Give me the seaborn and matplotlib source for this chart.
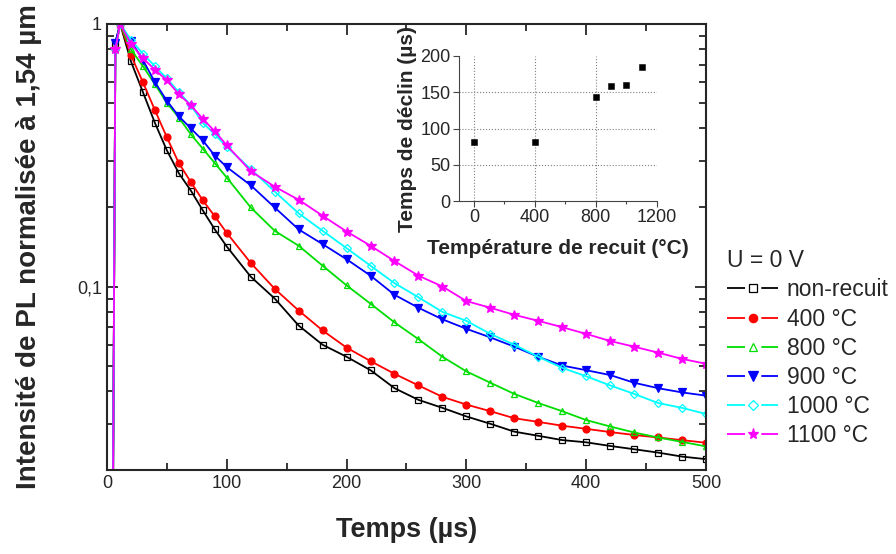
import numpy as np
import pandas as pd
import seaborn as sns
import matplotlib.pyplot as plt
from matplotlib.lines import Line2D
from matplotlib.ticker import FixedLocator, LogLocator, NullFormatter, FuncFormatter, MultipleLocator

sns.set_style("ticks")
plt.rcParams['font.family'] = ['Liberation Sans', 'DejaVu Sans']

# temps (µs)
temps = [5, 7, 11, 20, 30, 40, 50, 60, 70, 80, 90, 100, 120, 140, 160, 180, 200,
         220, 240, 260, 280, 300, 320, 340, 360, 380, 400, 420, 440, 460, 480, 500]

non_recuit = [0.015, 0.85, 1.0, 0.72, 0.55, 0.42, 0.33, 0.27, 0.232, 0.195, 0.165, 0.142,
              0.109, 0.090, 0.071, 0.060, 0.054, 0.048, 0.041, 0.037, 0.0345, 0.032,
              0.030, 0.028, 0.027, 0.026, 0.0255, 0.0247, 0.024, 0.0233, 0.0225, 0.022]
r400 = [0.015, 0.8, 1.0, 0.76, 0.6, 0.47, 0.37, 0.295, 0.25, 0.213, 0.185, 0.16,
        0.123, 0.098, 0.081, 0.068, 0.0585, 0.052, 0.0465, 0.042, 0.038, 0.0355,
        0.0335, 0.0315, 0.0305, 0.0295, 0.0287, 0.0279, 0.0272, 0.0266, 0.026, 0.0254]
r800 = [0.015, 0.8, 1.0, 0.80, 0.69, 0.59, 0.50, 0.44, 0.38, 0.335, 0.295, 0.26,
        0.20, 0.163, 0.143, 0.12, 0.101, 0.086, 0.073, 0.063, 0.054, 0.0475,
        0.043, 0.039, 0.036, 0.0335, 0.031, 0.0293, 0.0278, 0.0266, 0.0256, 0.0246]
r900 = [0.015, 0.85, 1.0, 0.86, 0.73, 0.60, 0.51, 0.445, 0.40, 0.36, 0.315, 0.285,
        0.243, 0.20, 0.165, 0.145, 0.127, 0.11, 0.093, 0.083, 0.075, 0.069,
        0.064, 0.059, 0.054, 0.050, 0.048, 0.046, 0.043, 0.041, 0.0395, 0.0384]
r1000 = [0.015, 0.8, 1.0, 0.87, 0.77, 0.69, 0.62, 0.55, 0.49, 0.42, 0.38, 0.34,
         0.28, 0.23, 0.19, 0.163, 0.14, 0.12, 0.103, 0.091, 0.08, 0.074,
         0.066, 0.060, 0.054, 0.049, 0.0455, 0.042, 0.039, 0.036, 0.0345, 0.0327]
r1100 = [0.015, 0.8, 1.0, 0.84, 0.74, 0.67, 0.61, 0.54, 0.49, 0.435, 0.39, 0.345,
         0.275, 0.24, 0.214, 0.186, 0.162, 0.143, 0.125, 0.11, 0.1, 0.088,
         0.083, 0.078, 0.074, 0.070, 0.066, 0.062, 0.059, 0.056, 0.053, 0.0508]

labels = ["non-recuit", "400 °C", "800 °C", "900 °C", "1000 °C", "1100 °C"]

# inset: temps de déclin vs température de recuit
t_recuit = [0, 400, 800, 900, 1000, 1100]
t_declin = [82, 82, 143, 158, 160, 185]

series = [non_recuit, r400, r800, r900, r1000, r1100]
colors = ["black", "red", "#00dd00", "blue", "cyan", "magenta"]
markers = ["s", "o", "^", "v", "D", "*"]
filled = [False, True, False, True, False, True]
msizes = [4.5, 5, 5, 5.5, 4.5, 7]

fig = plt.figure(figsize=(8.96, 5.54), dpi=100)
ax = fig.add_axes([0.1194, 0.1516, 0.6685, 0.8051])

handles = []
for vals, lab, c, m, f, ms in zip(series, labels, colors, markers, filled, msizes):
    mfc = c if f else "none"
    sns.lineplot(x=temps, y=vals, ax=ax, color=c, lw=1.3, marker=m, markersize=ms,
                 markerfacecolor=mfc, markeredgecolor=c, markeredgewidth=0.9)
    ln = Line2D([], [], color=c, lw=1.3, linestyle=(0, (10, 9)))
    mk = Line2D([], [], color=c, ls="none", marker=m, markersize=ms + 1,
                markerfacecolor=mfc if f else "white", markeredgecolor=c, markeredgewidth=0.9)
    handles.append((ln, mk))

ax.set_yscale("log")
ax.set_xlim(0, 500)
ax.set_ylim(0.02, 1)
ax.xaxis.set_major_locator(MultipleLocator(100))
ax.xaxis.set_minor_locator(MultipleLocator(50))
ax.yaxis.set_major_locator(FixedLocator([0.1, 1]))
ax.yaxis.set_minor_locator(LogLocator(base=10, subs=np.arange(2, 10)))
ax.yaxis.set_minor_formatter(NullFormatter())
ax.yaxis.set_major_formatter(FuncFormatter(lambda v, p: "1" if v >= 1 else "0,1"))
ax.tick_params(which="both", direction="in", top=True, right=True, width=1.3, labelsize=13)
ax.tick_params(which="major", length=8)
ax.tick_params(which="minor", length=5)
for s in ax.spines.values():
    s.set_linewidth(1.5)
ax.set_xlabel("Temps (µs)", fontsize=19.5, fontweight="bold", labelpad=18)
ax.set_ylabel("Intensité de PL normalisée à 1,54 µm", fontsize=20, fontweight="bold", labelpad=25)

leg = ax.legend(handles, labels, title="U = 0 V", loc="upper left", bbox_to_anchor=(1.035, 0.495),
                frameon=False, fontsize=16.5, title_fontsize=16.5, handlelength=2.25,
                handletextpad=0.35, labelspacing=0.27, borderaxespad=0, borderpad=0,
                alignment="left")

# inset
axin = fig.add_axes([0.512, 0.637, 0.221, 0.262])
axin.set_facecolor("none")
for xv in [0, 400, 800]:
    axin.axvline(xv, color="gray", ls=":", lw=0.8, zorder=0)
for yv in [50, 100, 150]:
    axin.axhline(yv, color="gray", ls=":", lw=0.8, zorder=0)
sns.scatterplot(x=t_recuit, y=t_declin, ax=axin, marker="s", color="black", s=22,
                edgecolor="black", zorder=3)
axin.set_xlim(-100, 1200)
axin.set_ylim(0, 200)
axin.xaxis.set_major_locator(FixedLocator([0, 400, 800, 1200]))
axin.xaxis.set_minor_locator(FixedLocator([200, 600, 1000]))
axin.yaxis.set_major_locator(MultipleLocator(50))
axin.spines["top"].set_visible(False)
axin.spines["right"].set_visible(False)
for s in ["left", "bottom"]:
    axin.spines[s].set_linewidth(0.8)
    axin.spines[s].set_color("#444444")
axin.tick_params(which="both", direction="out", labelsize=13, width=0.8, color="#444444", pad=2)
axin.tick_params(which="major", length=4)
axin.tick_params(which="minor", length=2.5)
axin.set_xlabel("Température de recuit (°C)", fontsize=15, fontweight="bold", labelpad=9)
axin.set_ylabel("Temps de déclin (µs)", fontsize=15, fontweight="bold", labelpad=2)

fig.savefig("out.png", dpi=100)
